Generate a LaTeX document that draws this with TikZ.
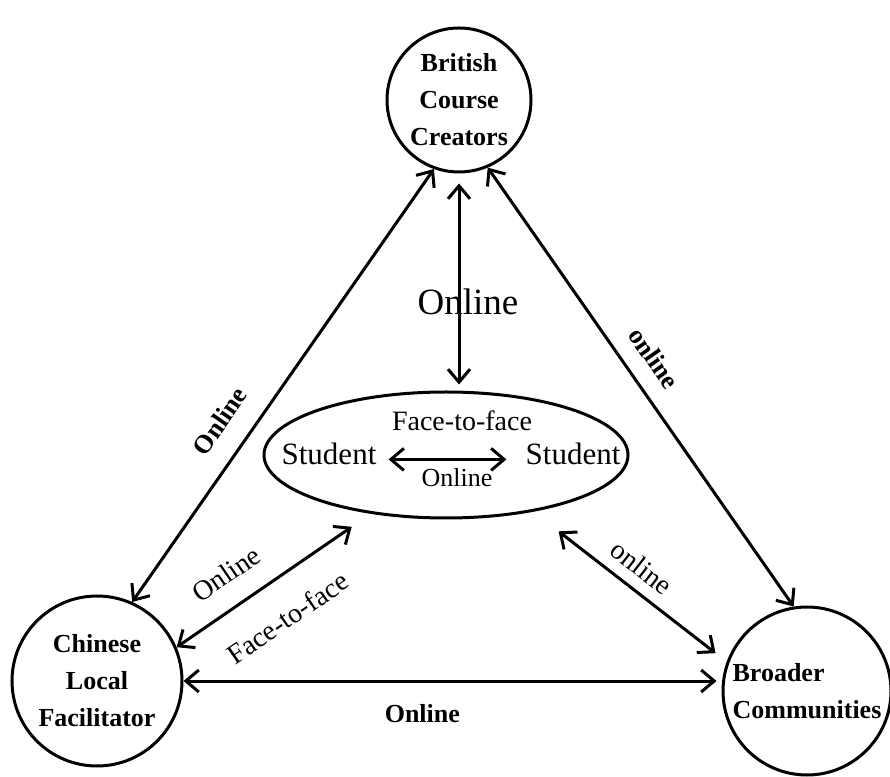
\documentclass[tikz,border=0pt]{standalone}
\usepackage{fontspec}
\setmainfont{Liberation Serif}
\usetikzlibrary{arrows.meta}
\usetikzlibrary{shapes.geometric}

\begin{document}
\begin{tikzpicture}[x=1pt, y=1pt,
  party/.style={circle, draw, line width=3pt, inner sep=0pt, align=center,
    font=\fontsize{26}{37}\selectfont\bfseries},
  link/.style={<->, line width=3pt, >={Straight Barb[length=13pt,width=22pt]}},
  lab/.style={font=\fontsize{28}{30}\selectfont, inner sep=2pt},
  blab/.style={font=\fontsize{26}{30}\selectfont\bfseries, inner sep=2pt}]
\useasboundingbox (0,0) rectangle (890,776);
% the three parties
\node[party, minimum size=144] (brit) at (459,676) {British\\Course\\Creators};
\node[party, minimum size=170] (chin) at (97,95) {Chinese\\Local\\Facilitator};
\node[party, minimum size=168, align=left] (brod) at (807,85) {Broader\\Communities};
% students in the middle
\node[ellipse, draw, line width=3pt, minimum width=364, minimum height=126] (stud) at (446,321) {};
\node[font=\fontsize{31}{33}\selectfont, inner sep=2pt, anchor=base] (sl) at (329,311) {Student};
\node[font=\fontsize{31}{33}\selectfont, inner sep=2pt, anchor=base] (sr) at (573,311) {Student};
\draw[link, shorten <=10pt, shorten >=17pt] ([yshift=-5pt]sl.east) -- ([yshift=-5pt]sl.east -| sr.west)
  node[lab, midway, above=25pt, xshift=11pt] {Face-to-face}
  node[lab, midway, below=6pt, font=\fontsize{26}{28}\selectfont, xshift=6pt] {Online};
% links
\draw[link, shorten <=10pt, shorten >=6pt] (brit.south) --
  node[lab, pos=.59, xshift=9pt, font=\fontsize{37}{40}\selectfont] {Online} (brit.south |- stud.north);
\draw[link] (chin.66) -- node[blab, sloped, pos=.376, above=19pt] {Online} (brit.250);
\draw[link] (brit.293) -- node[blab, sloped, pos=.47, above=15pt] {online} (brod.99);
\draw[link, shorten >=23pt] (chin.23) --
  node[lab, sloped, pos=.35, above=19pt] {Online}
  node[lab, sloped, pos=.46, below=25pt] {Face-to-face} (stud.218);
\draw[link, shorten <=32pt, shorten >=14pt] (stud.327) --
  node[lab, sloped, pos=.49, above=9pt] {online} (brod.160);
\draw[link, shorten >=5pt] (chin.east) --
  node[blab, pos=.444, below=20pt] {Online} (brod.west |- chin.east);
\end{tikzpicture}
\end{document}
